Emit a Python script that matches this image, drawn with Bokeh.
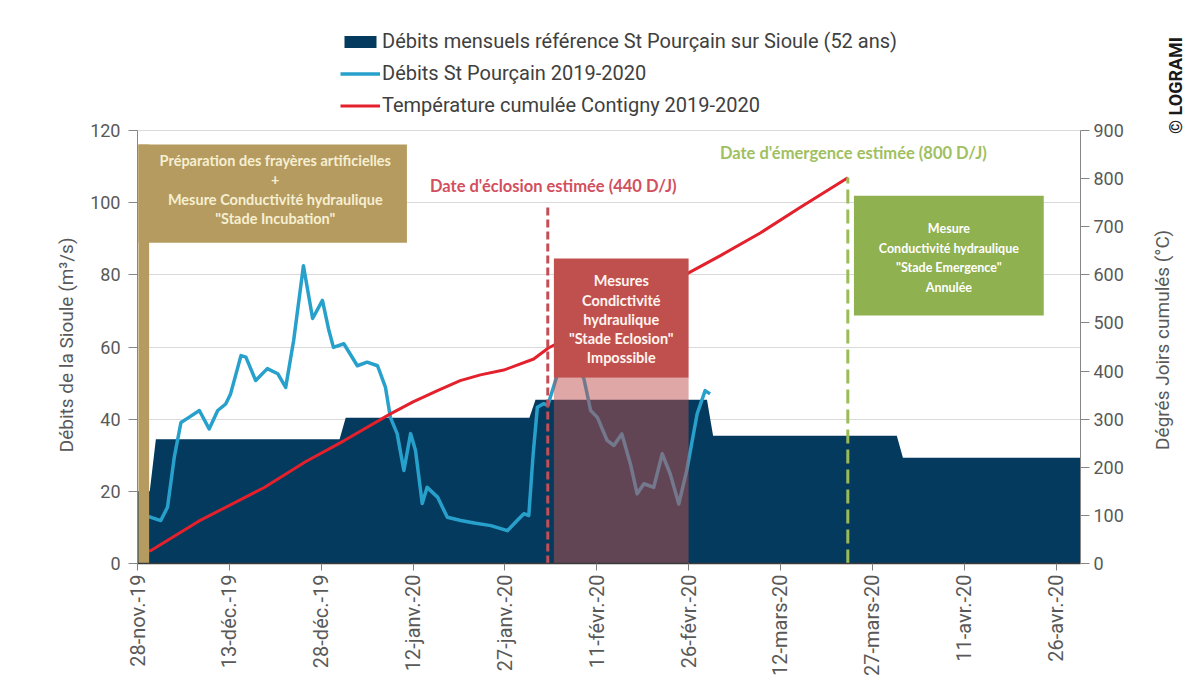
import math
from bokeh.plotting import figure
from bokeh.layouts import row
from bokeh.models import (Range1d, LinearAxis, FixedTicker, Legend, LegendItem)
from bokeh.core.properties import value
from bokeh.embed import file_html
from bokeh.resources import INLINE

# ---------------- data (x = days since 28 Nov 2019) ----------------
tick_days = [0, 15, 30, 45, 60, 75, 90, 105, 120, 135, 150]
tick_labels = ["28-nov.-19", "13-déc.-19", "28-déc.-19", "12-janv.-20", "27-janv.-20",
               "11-févr.-20", "26-févr.-20", "12-mars-20", "27-mars-20", "11-avr.-20", "26-avr.-20"]

# monthly reference flow (52 years), drawn day by day
ref_day = [0, 2, 3, 33, 34, 64, 65, 93, 94, 124, 125, 154]
ref_flow = [20.0, 20.0, 34.4, 34.4, 40.4, 40.4, 45.4, 45.4, 35.4, 35.4, 29.3, 29.3]

# daily flow St Pourçain 2019-2020
flow_day = [1.6, 2.2, 3.8, 4.9, 6.0, 7.1, 8.4, 10.1, 11.7, 13.1, 14.4, 15.2, 16.0, 16.9, 17.7,
            19.3, 21.2, 22.9, 24.2, 25.5, 27.1, 28.6, 30.2, 31.2, 32.0, 33.7, 35.9, 37.5, 39.2,
            40.5, 41.3, 42.4, 43.5, 44.6, 45.4, 46.5, 47.3, 49.0, 50.6, 52.8, 55.0, 57.7, 60.4,
            62.0, 63.1, 63.9, 64.6, 65.3, 66.3, 67.0, 68.5, 70.0, 71.5, 72.9, 74.0, 75.1, 76.7,
            77.8, 79.1, 80.5, 81.6, 82.7, 84.3, 85.7, 87.0, 88.4, 89.7, 91.4, 92.7, 93.5]
flow_val = [13.0, 12.8, 11.9, 15.6, 29.4, 39.1, 40.5, 42.4, 37.3, 42.4, 44.2, 47.0, 52.0, 57.6, 57.2,
            50.7, 54.0, 52.6, 48.8, 61.8, 82.5, 67.9, 72.9, 65.0, 59.9, 60.9, 54.8, 55.8, 54.8,
            48.8, 40.5, 36.0, 25.8, 36.0, 31.3, 16.6, 21.1, 18.4, 12.8, 11.9, 11.2, 10.5, 9.1,
            11.9, 13.8, 13.3, 30.0, 43.3, 44.3, 43.8, 52.0, 57.0, 56.0, 51.2, 42.4, 40.5, 34.1,
            32.7, 35.9, 27.6, 19.3, 22.1, 21.1, 30.4, 24.8, 16.5, 25.8, 41.5, 47.9, 47.0]

# cumulated temperature Contigny (degree-days)
temp_day = [0.4, 2.2, 10.0, 20.7, 27.5, 33.7, 41.3, 45.0, 48.9, 52.7, 56.0, 59.8, 64.7, 67.1,
            75.0, 82.0, 89.7, 95.2, 101.7, 108.2, 116.0]
temp_val = [23, 27, 88, 158, 212, 255, 311, 336, 359, 380, 392, 402, 425, 448,
            500, 550, 602, 640, 687, 740, 802]

eclosion_day = 67      # 3 Feb 2020, 440 D/J
emergence_day = 116    # 23 Mar 2020, 800 D/J

# ---------------- layout constants ----------------
H = 690
LW = 80                                # left strip (axis title)
RW = 50                                # right strip (axis title + copyright)
W = 1140 - LW                          # main figure width
FL, FR, FT, FB = 137, 1080, 20, 563    # frame edges in page px (frame extended upward for legend)
Y120 = 130                             # pixel row of the 120 / 900 level
YMAX = 120 * (FB - FT) / (FB - Y120)
TMAX = 900 * (FB - FT) / (FB - Y120)

p = figure(width=W, height=H, output_backend="svg", toolbar_location=None,
           x_range=Range1d(0, 154), y_range=Range1d(0, YMAX),
           min_border_left=FL - LW, min_border_right=(LW + W) - FR, min_border_top=FT,
           min_border_bottom=H - FB, background_fill_color="white",
           border_fill_color="white")
p.outline_line_color = None
p.extra_y_ranges = {"temp": Range1d(0, TMAX)}

TXT = "#595959"
FONT = "Roboto"

# x axis
xa = p.xaxis[0]
xa.ticker = FixedTicker(ticks=tick_days)
xa.major_label_overrides = dict(zip(tick_days, tick_labels))
xa.major_label_orientation = math.pi / 2
xa.major_label_text_font = FONT
xa.major_label_text_font_size = "20px"
xa.major_label_text_color = TXT
xa.major_label_standoff = 4
xa.axis_line_color = "#3a3a3a"
xa.axis_line_width = 1.5
xa.major_tick_line_color = "#7f7f7f"
xa.major_tick_out = 7
xa.major_tick_in = 0
xa.minor_tick_line_color = None

# left axis
ya = p.yaxis[0]
ya.ticker = FixedTicker(ticks=[0, 20, 40, 60, 80, 100, 120])
ya.bounds = (0, 120)
ya.major_label_text_font = FONT
ya.major_label_text_font_size = "18px"
ya.major_label_text_color = TXT
ya.major_label_standoff = 8
ya.axis_line_color = "#868686"
ya.major_tick_line_color = "#868686"
ya.major_tick_out = 9
ya.major_tick_in = 0
ya.minor_tick_line_color = None

# right axis
ra = LinearAxis(y_range_name="temp", ticker=FixedTicker(ticks=list(range(0, 901, 100))),
                bounds=(0, 900))
ra.major_label_text_font = FONT
ra.major_label_text_font_size = "18px"
ra.major_label_text_color = TXT
ra.major_label_standoff = 4
ra.axis_line_color = "#868686"
ra.major_tick_line_color = "#868686"
ra.major_tick_out = 9
ra.major_tick_in = 0
ra.minor_tick_line_color = None
p.add_layout(ra, "right")

p.xgrid.visible = False
p.ygrid.grid_line_color = "#d9d9d9"
p.ygrid.grid_line_width = 1

# ---------------- series ----------------
area = p.varea(x=ref_day, y1=[0] * len(ref_day), y2=ref_flow, fill_color="#043a5d")
blue = p.line(flow_day, flow_val, line_color="#27a1cc", line_width=3.5, line_join="round")
red = p.line(temp_day, temp_val, y_range_name="temp", line_color="#e3202b", line_width=3,
             line_join="round")

# event markers
p.segment(x0=[eclosion_day], y0=[0], x1=[eclosion_day], y1=[98.7],
          line_color="#c44e55", line_width=3, line_dash="8 4")
p.segment(x0=[emergence_day], y0=[0], x1=[emergence_day], y1=[107.0],
          line_color="#9bbb59", line_width=3, line_dash="14 6")

# boxes
TAN = "#b59b5f"
p.quad(left=[0.15], right=[1.9], bottom=[0], top=[116.1], fill_color=TAN, line_color=None)
p.quad(left=[0.15], right=[44], bottom=[88.9], top=[116.1], fill_color=TAN, line_color=None)
p.quad(left=[68], right=[90], bottom=[51.5], top=[84.5], fill_color="#c0504d", line_color=None)
p.quad(left=[68], right=[90], bottom=[0], top=[51.5], fill_color="#c0504d", fill_alpha=0.5,
       line_color=None)
p.quad(left=[117], right=[148], bottom=[68.7], top=[101.9], fill_color="#8fb150", line_color=None)

BF = value("Lato")
p.text(x=[22.5] * 4, y=[111.6, 106.3, 100.8, 95.6],
       text=["Préparation des frayères artificielles", "+",
             "Mesure Conductivité hydraulique", "\"Stade Incubation\""],
       text_font=BF, text_font_style="bold", text_font_size="14.5px",
       text_color="#f5efd2", text_align="center", text_baseline="middle")
p.text(x=[79] * 5, y=[78.4, 72.9, 67.6, 62.3, 57.1],
       text=["Mesures", "Condictivité", "hydraulique", "\"Stade Eclosion\"", "Impossible"],
       text_font=BF, text_font_style="bold", text_font_size="14.5px",
       text_color="#fff4f0", text_align="center", text_baseline="middle")
p.text(x=[132.5] * 4, y=[92.8, 87.3, 82.0, 76.5],
       text=["Mesure", "Conductivité hydraulique", "\"Stade Emergence\"", "Annulée"],
       text_font=BF, text_font_style="bold", text_font_size="12.5px",
       text_color="#ffffff", text_align="center", text_baseline="middle")
p.text(x=[67.9], y=[104.7], text=["Date d'éclosion estimée (440 D/J)"],
       text_font=BF, text_font_style="bold", text_font_size="16.5px",
       text_color="#d24f5e", text_align="center", text_baseline="middle")
p.text(x=[116.9], y=[113.9], text=["Date d'émergence estimée (800 D/J)"],
       text_font=BF, text_font_style="bold", text_font_size="16.5px",
       text_color="#9fc060", text_align="center", text_baseline="middle")

# legend (inside the extended frame, above the 120 level)
legend = Legend(items=[
    LegendItem(label="Débits mensuels référence St Pourçain sur Sioule (52 ans)", renderers=[area]),
    LegendItem(label="Débits St Pourçain 2019-2020", renderers=[blue]),
    LegendItem(label="Température cumulée Contigny 2019-2020", renderers=[red]),
], location=(203, FB - 117), orientation="vertical")
legend.background_fill_alpha = 0
legend.border_line_color = None
legend.padding = 0
legend.margin = 0
legend.spacing = 8
legend.glyph_width = 40
legend.glyph_height = 15
legend.label_height = 15
legend.label_standoff = 2
legend.label_text_font = FONT
legend.label_text_font_size = "20px"
legend.label_text_color = "#404040"
p.add_layout(legend, "center")

# ---------------- side strips (frames are aligned with the main frame) ----------------
def strip(width, x0):
    f = figure(width=width, height=H, output_backend="svg", toolbar_location=None,
               x_range=Range1d(x0, x0 + width), y_range=Range1d(FB, FT),
               x_axis_location=None, y_axis_location=None, min_border=0,
               background_fill_color="white", border_fill_color="white")
    f.outline_line_color = None
    f.xgrid.visible = False
    f.ygrid.visible = False
    return f

pL = strip(LW, 0)
pL.text(x=[66], y=[342], text=["Débits de la Sioule  (m³/s)"], angle=math.pi / 2,
        text_font=value(FONT), text_font_size="19px", text_color=TXT,
        text_align="center", text_baseline="middle")

p2 = strip(RW, LW + W)
p2.text(x=[1162], y=[337], text=["Dégrés  Joirs cumulés (°C)"], angle=math.pi / 2,
        text_font=value(FONT), text_font_size="19px", text_color=TXT,
        text_align="center", text_baseline="middle")
p2.text(x=[1175], y=[85], text=["© LOGRAMI"], angle=math.pi / 2,
        text_font=value(FONT), text_font_style="bold", text_font_size="18px",
        text_color="#1a1a1a", text_align="center", text_baseline="middle")

layout = row(pL, p, p2)
open("out.html", "w").write(file_html(layout, INLINE))
